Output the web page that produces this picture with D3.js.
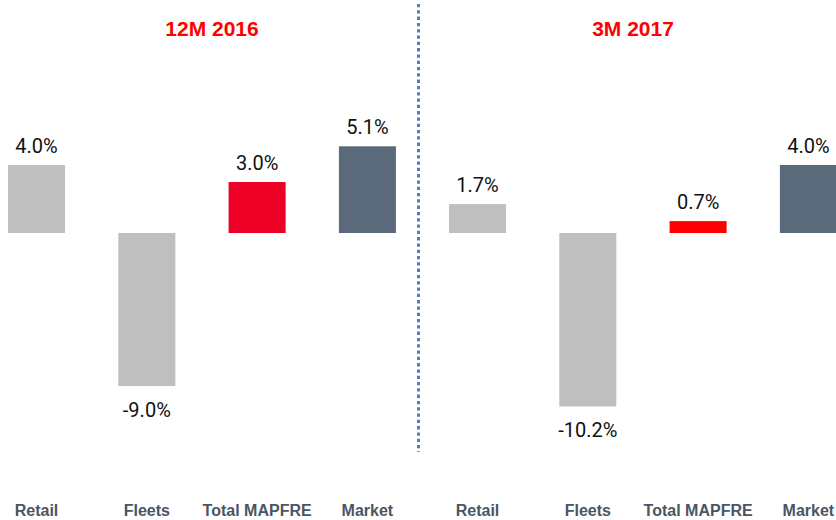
<!DOCTYPE html>
<html>
<head>
<meta charset="utf-8">
<script src="https://cdn.jsdelivr.net/npm/d3@7"></script>
<style>
  body { margin: 0; background: #fff; }
</style>
</head>
<body>
<div id="wrapper"></div>
<script>
const categories = ["Retail", "Fleets", "Total MAPFRE", "Market"];
const periods = ["12M 2016", "3M 2017"];
const values2016 = [4.0, -9.0, 3.0, 5.1];
const values2017 = [1.7, -10.2, 0.7, 4.0];

const barColors2016 = ["#bfbfbf", "#bfbfbf", "#ec0026", "#5a6a7a"];
const barColors2017 = ["#bfbfbf", "#bfbfbf", "#ff0000", "#5a6a7a"];

const dimension = {
    width: 836,
    height: 520,
    zeroY: 233
};

const svg = d3.select("#wrapper").append("svg")
    .attr("width", dimension.width)
    .attr("height", dimension.height);

// one % = ~17px, zero at y=233
const scaleY = d3.scaleLinear()
    .domain([0, 10])
    .range([dimension.zeroY, dimension.zeroY - 170]);

const step = 110.3;
const panels = [
    {title: periods[0], values: values2016, colors: barColors2016, x0: 8, titleX: 212},
    {title: periods[1], values: values2017, colors: barColors2017, x0: 449, titleX: 633}
];

panels.forEach(p => {
    const scaleX = d3.scaleBand()
        .domain(categories)
        .range([p.x0, p.x0 + step * (categories.length - 0.483)])
        .paddingInner(0.483)
        .paddingOuter(0);

    const g = svg.append("g");

    g.append("text")
        .attr("x", p.titleX)
        .attr("y", 36)
        .attr("text-anchor", "middle")
        .attr("font-family", "Liberation Sans, Arial, sans-serif")
        .attr("font-weight", "bold")
        .attr("font-size", "21px")
        .attr("fill", "#ff0000")
        .text(p.title);

    const rows = categories.map((c, i) => ({cat: c, v: p.values[i], color: p.colors[i]}));

    g.selectAll("rect")
        .data(rows)
        .enter()
        .append("rect")
        .attr("x", d => scaleX(d.cat))
        .attr("y", d => scaleY(Math.max(0, d.v)))
        .attr("width", scaleX.bandwidth())
        .attr("height", d => Math.abs(scaleY(d.v) - scaleY(0)))
        .attr("fill", d => d.color);

    g.selectAll("text.val")
        .data(rows)
        .enter()
        .append("text")
        .attr("class", "val")
        .attr("x", d => scaleX(d.cat) + scaleX.bandwidth() / 2)
        .attr("y", d => d.v >= 0 ? scaleY(d.v) - 12 : scaleY(d.v) + 31)
        .attr("text-anchor", "middle")
        .attr("font-family", "Roboto, sans-serif")
        .attr("font-size", "20px")
        .attr("fill", "#111")
        .text(d => d.v.toFixed(1) + "%");

    g.selectAll("text.cat")
        .data(rows)
        .enter()
        .append("text")
        .attr("class", "cat")
        .attr("x", d => scaleX(d.cat) + scaleX.bandwidth() / 2)
        .attr("y", 516)
        .attr("text-anchor", "middle")
        .attr("font-family", "Liberation Sans, Arial, sans-serif")
        .attr("font-weight", "bold")
        .attr("font-size", "16px")
        .attr("fill", "#4a5663")
        .text(d => d.cat);
});

// dotted divider between the periods
svg.append("line")
    .attr("x1", 418.5).attr("x2", 418.5)
    .attr("y1", 4).attr("y2", 452)
    .attr("stroke", "#4f7fc0")
    .attr("stroke-width", 3)
    .attr("stroke-dasharray", "3.3,3");
</script>
</body>
</html>
